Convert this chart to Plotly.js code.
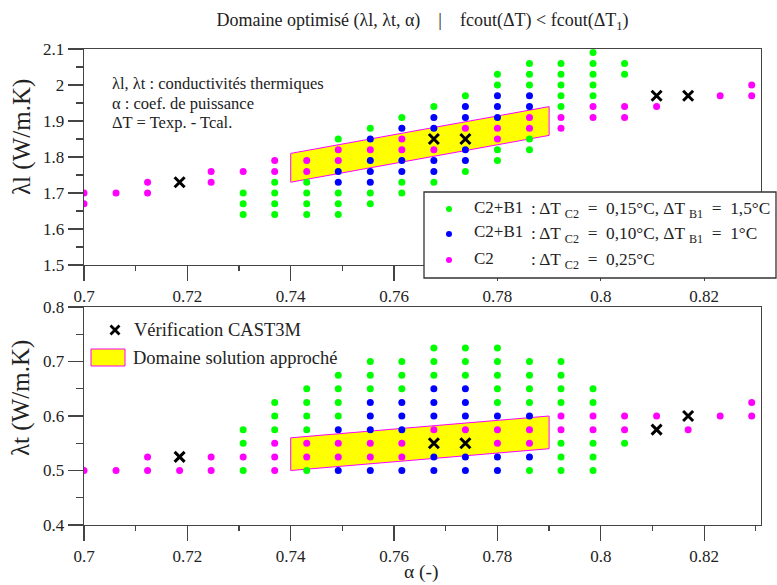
<!DOCTYPE html>
<html><head><meta charset="utf-8">
<script src="https://cdn.plot.ly/plotly-3.0.1.min.js"></script>
<style>
html,body{margin:0;padding:0;background:#fff}
</style>
</head><body>
<div id="chart" style="width:777px;height:585px"></div>
<script>
// ---------------- DATA ----------------
// Top panel : lambda_l (W/m.K) versus alpha
const greenTopAlpha = [0.7308,0.7308,0.7308, 0.7369,0.7369,0.7369,0.7369, 0.7431,0.7431,0.7431,0.7431, 0.7492,0.7492,0.7492,0.7492, 0.7554,0.7554,0.7554, 0.7615,0.7615,0.7615, 0.7677,0.7677, 0.7738,0.7738, 0.7800,0.7800,0.7800,0.7800, 0.7862,0.7862,0.7862,0.7862,0.7862, 0.7923,0.7923,0.7923,0.7923,0.7923, 0.7985,0.7985,0.7985,0.7985,0.7985, 0.8046,0.8046];
const greenTopL     = [1.70,1.67,1.64, 1.73,1.70,1.67,1.64, 1.73,1.70,1.67,1.64, 1.85,1.70,1.67,1.64, 1.88,1.70,1.67, 1.91,1.73,1.70, 1.94,1.73, 1.97,1.76, 2.03,2.00,1.82,1.79, 2.06,2.03,2.00,1.85,1.82, 2.06,2.03,2.00,1.97,1.94, 2.09,2.06,2.03,2.00,1.97, 2.06,2.03];

const blueTopAlpha = [0.7492,0.7492, 0.7554,0.7554,0.7554,0.7554, 0.7615,0.7615,0.7615, 0.7677,0.7677,0.7677,0.7677, 0.7738,0.7738,0.7738,0.7738, 0.7800,0.7800,0.7800, 0.7862,0.7862];
const blueTopL     = [1.76,1.73, 1.85,1.79,1.76,1.73, 1.88,1.79,1.76, 1.91,1.88,1.79,1.76, 1.94,1.91,1.82,1.79, 1.97,1.94,1.91, 1.97,1.94];

const pinkTopAlpha = [0.7000,0.7000, 0.7062, 0.7123,0.7123, 0.7246,0.7246, 0.7308, 0.7369,0.7369, 0.7431,0.7431, 0.7492,0.7492, 0.7554, 0.7615,0.7615, 0.7677, 0.7738, 0.7800,0.7800, 0.7862,0.7862, 0.7923,0.7923, 0.7985,0.7985, 0.8046,0.8046, 0.8108, 0.8231, 0.8292,0.8292];
const pinkTopL     = [1.70,1.67, 1.70, 1.73,1.70, 1.76,1.73, 1.76, 1.79,1.76, 1.79,1.76, 1.82,1.79, 1.82, 1.85,1.82, 1.82, 1.88, 1.88,1.85, 1.91,1.88, 1.91,1.88, 1.94,1.91, 1.94,1.91, 1.94, 1.97, 2.00,1.97];

// Bottom panel : lambda_t (W/m.K) versus alpha
const greenBotAlpha = [0.7308,0.7308,0.7308, 0.7369,0.7369,0.7369, 0.7431,0.7431,0.7431,0.7431,0.7431, 0.7492,0.7492,0.7492,0.7492, 0.7554,0.7554,0.7554, 0.7615,0.7615,0.7615, 0.7677,0.7677,0.7677, 0.7738,0.7738,0.7738, 0.7800,0.7800,0.7800,0.7800,0.7800, 0.7862,0.7862,0.7862,0.7862,0.7862, 0.7923,0.7923,0.7923,0.7923,0.7923,0.7923,0.7923, 0.7985,0.7985,0.7985,0.7985,0.7985, 0.8046];
const greenBotT     = [0.575,0.55,0.5, 0.625,0.6,0.575, 0.65,0.625,0.6,0.575,0.5, 0.675,0.65,0.625,0.6, 0.7,0.675,0.65, 0.7,0.675,0.65, 0.725,0.7,0.675, 0.725,0.7,0.675, 0.725,0.7,0.675,0.65,0.625, 0.7,0.675,0.65,0.625,0.5, 0.7,0.675,0.65,0.625,0.55,0.525,0.5, 0.65,0.625,0.55,0.525,0.5, 0.55];

const blueBotAlpha = [0.7492,0.7492, 0.7554,0.7554,0.7554,0.7554, 0.7615,0.7615,0.7615,0.7615, 0.7677,0.7677,0.7677,0.7677,0.7677, 0.7738,0.7738,0.7738,0.7738,0.7738, 0.7800,0.7800,0.7800, 0.7862,0.7862];
const blueBotT     = [0.575,0.5, 0.625,0.6,0.575,0.5, 0.625,0.6,0.575,0.5, 0.65,0.625,0.6,0.525,0.5, 0.65,0.625,0.6,0.525,0.5, 0.6,0.525,0.5, 0.6,0.525];

const pinkBotAlpha = [0.7000, 0.7062, 0.7123,0.7123, 0.7185, 0.7246,0.7246, 0.7308, 0.7369,0.7369,0.7369, 0.7431,0.7431, 0.7492,0.7492, 0.7554,0.7554, 0.7615,0.7615, 0.7677, 0.7738, 0.7800,0.7800, 0.7862,0.7862, 0.7923,0.7923, 0.7985,0.7985, 0.8046,0.8046, 0.8108, 0.8169, 0.8231, 0.8292,0.8292];
const pinkBotT     = [0.5, 0.5, 0.525,0.5, 0.5, 0.525,0.5, 0.525, 0.55,0.525,0.5, 0.55,0.525, 0.55,0.525, 0.55,0.525, 0.55,0.525, 0.575, 0.575, 0.575,0.55, 0.575,0.55, 0.6,0.575, 0.6,0.575, 0.6,0.575, 0.6, 0.575, 0.6, 0.625,0.6];

// CAST3M verification points
const verifAlpha = [0.7185, 0.7677, 0.7738, 0.8108, 0.8169];
const verifL     = [1.73, 1.85, 1.85, 1.97, 1.97];
const verifT     = [0.525, 0.55, 0.55, 0.575, 0.60];

// Approximate solution domain (quadrilateral corners)
const domainAlpha = [0.74, 0.79, 0.79, 0.74, 0.74];
const domainL     = [1.73, 1.86, 1.94, 1.81, 1.73];
const domainT     = [0.50, 0.54, 0.60, 0.56, 0.50];

// Texts
const titleText = 'Domaine optimisé (λl, λt, α)    |    fcout(ΔT) &lt; fcout(ΔT<sub>1</sub>)';
const notes = ['λl, λt : conductivités thermiques', 'α : coef. de puissance', 'ΔT = Texp. - Tcal.'];
const legendLabels = ['C2+B1', 'C2+B1', 'C2'];
const legendConds = ['ΔT <sub>C2</sub>  =  0,15°C, ΔT <sub>B1</sub>  =  1,5°C', 'ΔT <sub>C2</sub>  =  0,10°C, ΔT <sub>B1</sub>  =  1°C', 'ΔT <sub>C2</sub>  =  0,25°C'];
const verifLabel = 'Vérification CAST3M';
const domainLabel = 'Domaine solution approché';
const xTitle = 'α (-)', yTopTitle = 'λl (W/m.K)', yBotTitle = 'λt (W/m.K)';

// ---------------- STYLE ----------------
const GREEN = '#00ff00', BLUE = '#0000ff', PINK = '#ff00ff', YEL = '#ffff00';
const LINE = '#444', TXT = '#222';
const FONT = 'Liberation Serif, Times New Roman, DejaVu Serif, serif';
const L = 84, R = 761, T = 49, B = 525;
const px = x => (x - L) / (R - L);
const py = y => (B - y) / (B - T);
const DOT = 7;

function pts(x, y, color, xa, ya) {
  return {type: 'scatter', mode: 'markers', x: x, y: y, xaxis: xa, yaxis: ya,
    marker: {color: color, size: DOT, line: {width: 0}}, showlegend: false, hoverinfo: 'skip'};
}
function dom(x, y, xa, ya) {
  return {type: 'scatter', mode: 'lines', x: x, y: y, xaxis: xa, yaxis: ya, fill: 'toself',
    fillcolor: YEL, line: {color: PINK, width: 1}, showlegend: false, hoverinfo: 'skip'};
}
function cross(x, y, xa, ya) {
  return {type: 'scatter', mode: 'markers', x: x, y: y, xaxis: xa, yaxis: ya,
    marker: {symbol: 'x-thin', size: 10, color: '#000', line: {color: '#000', width: 3}},
    showlegend: false, hoverinfo: 'skip'};
}

const traces = [
  dom(domainAlpha, domainL, 'x', 'y'),
  pts(greenTopAlpha, greenTopL, GREEN, 'x', 'y'),
  pts(blueTopAlpha, blueTopL, BLUE, 'x', 'y'),
  pts(pinkTopAlpha, pinkTopL, PINK, 'x', 'y'),
  cross(verifAlpha, verifL, 'x', 'y'),
  dom(domainAlpha, domainT, 'x2', 'y2'),
  pts(greenBotAlpha, greenBotT, GREEN, 'x2', 'y2'),
  pts(blueBotAlpha, blueBotT, BLUE, 'x2', 'y2'),
  pts(pinkBotAlpha, pinkBotT, PINK, 'x2', 'y2'),
  cross(verifAlpha, verifT, 'x2', 'y2')
];

const tickFont = {family: FONT, size: 17, color: TXT};
function xAxis(anchor) {
  return {anchor: anchor, domain: [0, 1], range: [0.7, 0.831], tick0: 0.7, dtick: 0.02,
    ticks: 'outside', ticklen: 15, tickwidth: 1.3, tickcolor: LINE,
    showline: true, linecolor: LINE, linewidth: 1.3, mirror: true,
    showgrid: false, zeroline: false, tickfont: tickFont,
    minor: {dtick: 0.01, tick0: 0.7, ticks: 'outside', ticklen: 5, tickwidth: 1.3, tickcolor: LINE, showgrid: false}};
}
function yAxis(anchor, domain, range, t0) {
  return {anchor: anchor, domain: domain, range: range, tick0: t0, dtick: 0.1,
    ticks: 'outside', ticklen: 15, tickwidth: 1.3, tickcolor: LINE,
    showline: true, linecolor: LINE, linewidth: 1.3, mirror: true,
    showgrid: false, zeroline: false, tickfont: tickFont,
    minor: {dtick: 0.05, tick0: t0, ticks: 'outside', ticklen: 7, tickwidth: 1.3, tickcolor: LINE, showgrid: false}};
}

const annFont = s => ({family: FONT, size: s, color: TXT});
const annotations = [];
notes.forEach((t, i) => annotations.push({xref: 'paper', yref: 'paper', x: px(110), y: py([84, 103, 122][i]),
  xanchor: 'left', yanchor: 'middle', text: t, showarrow: false, font: annFont(16.5)}));
annotations.push({xref: 'paper', yref: 'paper', x: px(22), y: py(137), text: yTopTitle, textangle: -90,
  showarrow: false, xanchor: 'center', yanchor: 'middle', font: annFont(25)});
annotations.push({xref: 'paper', yref: 'paper', x: px(21), y: py(398), text: yBotTitle, textangle: -90,
  showarrow: false, xanchor: 'center', yanchor: 'middle', font: annFont(25)});
annotations.push({xref: 'paper', yref: 'paper', x: px(421), y: py(572), text: xTitle,
  showarrow: false, xanchor: 'center', yanchor: 'middle', font: annFont(19.5)});
// top legend texts
const rowsY = [207, 232, 258];
legendLabels.forEach((t, i) => annotations.push({xref: 'paper', yref: 'paper', x: px(472), y: py(rowsY[i]),
  xanchor: 'left', yanchor: 'middle', text: t, showarrow: false, font: annFont(17)}));
legendConds.forEach((t, i) => annotations.push({xref: 'paper', yref: 'paper', x: px(529), y: py(rowsY[i] + 3),
  xanchor: 'left', yanchor: 'middle', text: ': ' + t, showarrow: false, font: annFont(17.3)}));
// bottom legend texts
annotations.push({xref: 'paper', yref: 'paper', x: px(132), y: py(330), xanchor: 'left', yanchor: 'middle',
  text: verifLabel, showarrow: false, font: annFont(18.5)});
annotations.push({xref: 'paper', yref: 'paper', x: px(131), y: py(358), xanchor: 'left', yanchor: 'middle',
  text: domainLabel, showarrow: false, font: annFont(18.5)});

const legColors = [GREEN, BLUE, PINK];
const shapes = [
  {type: 'rect', xref: 'paper', yref: 'paper', x0: px(424), x1: px(776), y0: py(278), y1: py(192),
   fillcolor: '#fff', line: {color: '#333', width: 1.3}, layer: 'above'},
  {type: 'rect', xref: 'paper', yref: 'paper', x0: px(91), x1: px(125), y0: py(366), y1: py(349),
   fillcolor: YEL, line: {color: PINK, width: 1}, layer: 'above'},
  {type: 'path', xref: 'paper', yref: 'paper', xsizemode: 'pixel', ysizemode: 'pixel',
   xanchor: px(115), yanchor: py(330), path: 'M-4.5,-4.5L4.5,4.5M-4.5,4.5L4.5,-4.5',
   line: {color: '#000', width: 2.8}, layer: 'above'}
];
legColors.forEach((c, i) => shapes.push({type: 'circle', xref: 'paper', yref: 'paper',
  xsizemode: 'pixel', ysizemode: 'pixel', xanchor: px(449), yanchor: py(rowsY[i] + 2),
  x0: -3, x1: 3, y0: -3, y1: 3, fillcolor: c, line: {width: 0}, layer: 'above'}));

const layout = {
  width: 777, height: 585,
  margin: {l: L, r: 777 - R, t: T, b: 585 - B, pad: 0},
  paper_bgcolor: '#fff', plot_bgcolor: '#fff',
  showlegend: false,
  font: {family: FONT},
  title: {text: titleText, font: {family: FONT, size: 18, color: TXT}, xref: 'paper', x: 0.5,
          xanchor: 'center', yref: 'container', y: 1 - 20 / 585, yanchor: 'middle'},
  xaxis: xAxis('y'),
  yaxis: yAxis('x', [py(265), 1], [1.5, 2.1], 1.5),
  xaxis2: xAxis('y2'),
  yaxis2: yAxis('x2', [0, py(307)], [0.4, 0.8], 0.4),
  annotations: annotations,
  shapes: shapes
};

Plotly.newPlot('chart', traces, layout, {displayModeBar: false, staticPlot: true});
</script></body></html>
